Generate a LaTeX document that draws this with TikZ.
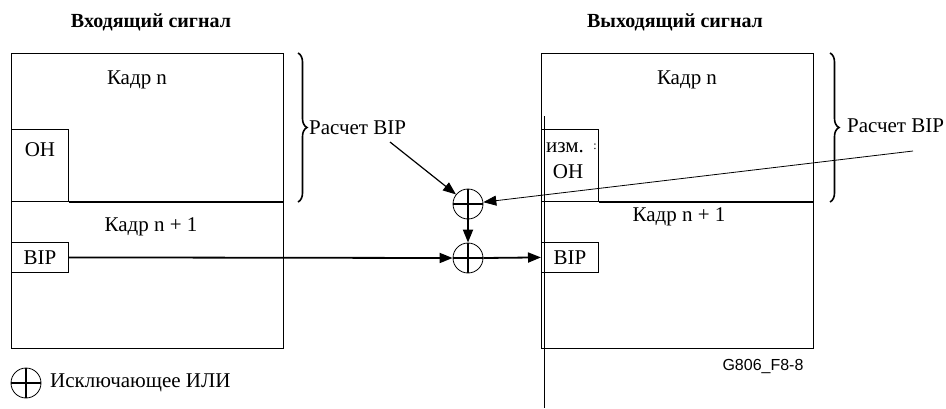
\documentclass[tikz,border=0pt]{standalone}
\usepackage{fontspec}
\setmainfont{Liberation Serif}
\newfontfamily\labelsans{Liberation Sans}
\usetikzlibrary{arrows.meta,decorations.pathreplacing}
\begin{document}
\begin{tikzpicture}[x=1pt,y=-1pt,
  thinline/.style={line width=0.8pt},
  heavy/.style={line width=1.8pt},
  tag/.style={font=\fontsize{21}{23}\selectfont, inner sep=0pt},
  heading/.style={font=\bfseries\fontsize{20}{22}\selectfont, inner sep=0pt, anchor=base},
  boxnode/.style={draw, thinline, anchor=north west, inner sep=0pt, minimum width=57pt},
  xor/.style={circle, draw, line width=0.8pt, minimum size=30pt, inner sep=0pt,
    path picture={\draw[line width=1.6pt]
      (path picture bounding box.north) -- (path picture bounding box.south)
      (path picture bounding box.west) -- (path picture bounding box.east);}},
  arrowtip/.style={-{Triangle[length=13pt,width=10pt]}},
  bracestyle/.style={decorate, decoration={brace, amplitude=9pt}, line width=1.6pt}
]
\useasboundingbox (0,0) rectangle (946,408);

% headings
\node[heading] (tin) at (151,27) {Входящий сигнал};
\node[heading] (tout) at (675,27) {Выходящий сигнал};

% incoming frame
\node[draw, thinline, anchor=north west, inner sep=0pt,
      minimum width=272pt, minimum height=295pt] (inframe) at (11,53) {};
\node[boxnode, minimum height=72pt] (ohin) at (11,129) {};
\node[tag] at (40,150) {OH};
\draw[heavy] (ohin.south east) -- (inframe.east |- ohin.south);
\node[tag] (kin) at (137,80) {Кадр n};
\node[tag] (kin1) at (151,227) {Кадр n + 1};
\node[boxnode, minimum height=30pt, font=\fontsize{21}{23}\selectfont] (bipin) at (11,242) {BIP};

% outgoing frame
\node[draw, thinline, anchor=north west, inner sep=0pt,
      minimum width=272pt, minimum height=295pt] (outframe) at (541,53) {};
\node[boxnode, minimum height=72pt] (ohout) at (541,129) {};
\node[tag, anchor=west] at (546,148) {изм.};
\node[inner sep=0pt, font=\fontsize{12}{12}\selectfont] at (595,147) {:};
\node[tag] at (568,172) {OH};
\draw[heavy] (ohout.south east) -- (outframe.east |- ohout.south);
\node[tag] (kout) at (687,80) {Кадр n};
\node[tag] (kout1) at (679,217) {Кадр n + 1};
\node[boxnode, minimum height=30pt, font=\fontsize{21}{23}\selectfont] (bipout) at (541,242) {BIP};
\coordinate (vtop) at (544,116);
\coordinate (vbot) at (544,408);
\draw[thinline] (vtop) -- (vbot);

% braces and their labels
\draw[bracestyle] (298,53) -- (298,202);
\draw[bracestyle] (830,53) -- (830,202);
\node[tag, anchor=west] (calcin) at (309,128) {Расчет BIP};
\node[tag, anchor=west] (calcout) at (847,126) {Расчет BIP};
\coordinate (calcinfoot) at (390,142);
\coordinate (calcoutfoot) at (913,151);

% exclusive-or gates
\node[xor] (x1) at (468,204) {};
\node[xor] (x2) at (468,258) {};

% connectors
\draw[line width=1.2pt, arrowtip] (calcinfoot) -- (x1);
\draw[thinline, arrowtip] (calcoutfoot) -- (x1);
\draw[heavy, arrowtip] (x1.south) -- (x2.north);
\draw[heavy, arrowtip] (bipin.east) -- (x2.west);
\draw[heavy, arrowtip] (x2.east) -- (bipout.west);

% legend and figure code
\node[xor] (legxor) at (26,383) {};
\node[tag, anchor=west] (legtext) at (50,383) {Исключающее ИЛИ};
\node[inner sep=0pt, font=\labelsans\fontsize{16}{18}\selectfont] (figcode) at (763,366) {G806\_F8-8};
\end{tikzpicture}
\end{document}
